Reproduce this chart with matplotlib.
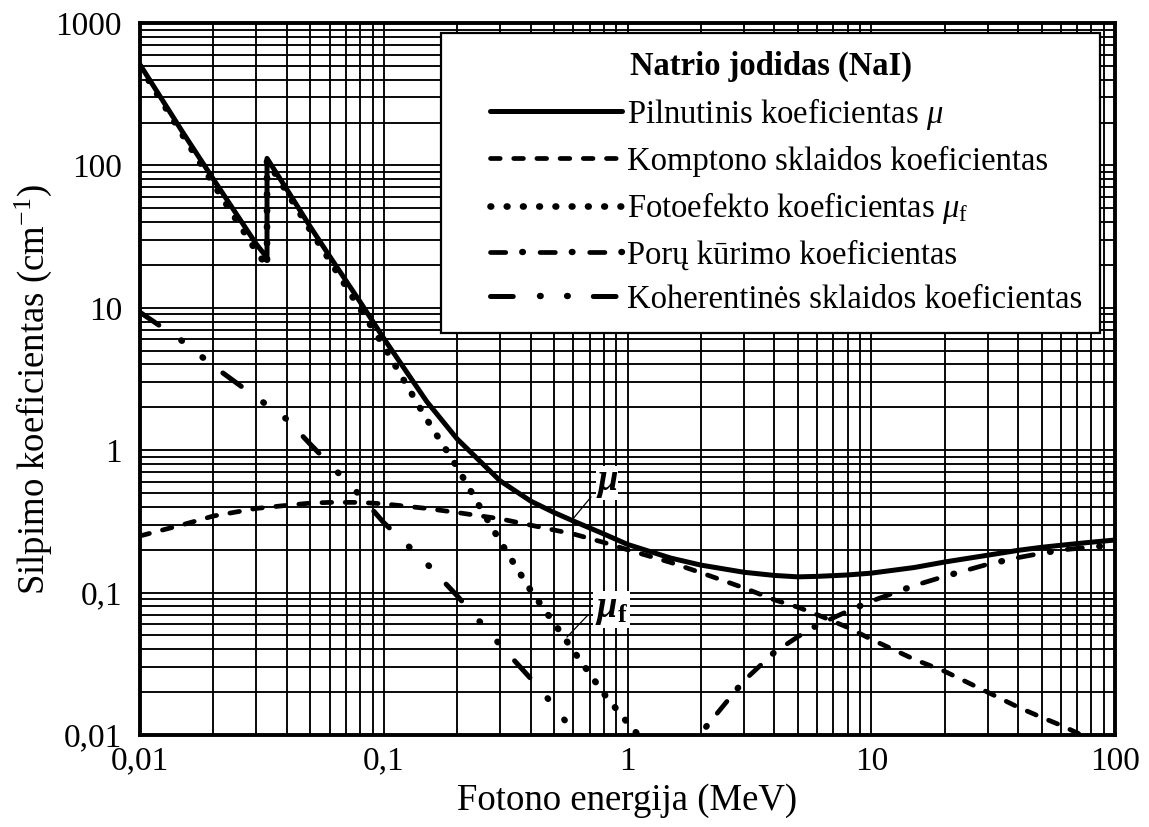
import matplotlib
matplotlib.use('Agg')
import matplotlib.pyplot as plt
import numpy as np
from matplotlib.lines import Line2D
from matplotlib.legend_handler import HandlerLine2D, HandlerTuple
from matplotlib.ticker import FixedLocator, FixedFormatter, LogLocator, NullFormatter

plt.rcParams['font.family'] = ['Liberation Serif', 'DejaVu Serif']
plt.rcParams['mathtext.fontset'] = 'custom'
plt.rcParams['mathtext.rm'] = 'Liberation Serif'
plt.rcParams['mathtext.it'] = 'Liberation Serif:italic'
plt.rcParams['mathtext.bf'] = 'Liberation Serif:bold'
plt.rcParams['mathtext.bfit'] = 'Liberation Serif:bold:italic'
plt.rcParams['lines.scale_dashes'] = False

# photon energy (MeV) and attenuation coefficients (1/cm)
total_e = [0.01, 0.015, 0.02, 0.03, 0.0332, 0.0332, 0.04, 0.05, 0.06, 0.08, 0.1, 0.15, 0.2, 0.3,
           0.4, 0.5, 0.6, 0.8, 1.0, 1.5, 2, 3, 4, 5, 6, 8, 10, 15, 20, 30, 40, 50, 60, 80, 100]
total_mu = [510, 170, 80, 28, 22.5, 112, 68, 37, 23, 11, 6.1, 2.2, 1.2, 0.61,
            0.44, 0.365, 0.318, 0.258, 0.218, 0.175, 0.156, 0.139, 0.132, 0.129, 0.13, 0.133, 0.137,
            0.150, 0.164, 0.183, 0.198, 0.208, 0.215, 0.226, 0.234]

compton_e = [0.01, 0.015, 0.02, 0.03, 0.04, 0.05, 0.06, 0.08, 0.1, 0.15, 0.2, 0.3, 0.5, 0.6, 0.8,
             1.0, 1.5, 2, 3, 4, 5, 6, 8, 10, 15, 20, 30, 40, 50, 60, 80, 100]
compton_mu = [0.25, 0.30, 0.345, 0.39, 0.41, 0.425, 0.43, 0.43, 0.42, 0.39, 0.365, 0.33, 0.275, 0.258,
              0.225, 0.2, 0.163, 0.138, 0.108, 0.089, 0.079, 0.07, 0.057, 0.047, 0.034, 0.028, 0.020,
              0.0157, 0.0133, 0.0117, 0.0093, 0.0077]

photo_e = [0.01, 0.015, 0.02, 0.03, 0.0332, 0.0332, 0.04, 0.05, 0.06, 0.08, 0.1, 0.15, 0.2, 0.25,
           0.3, 0.4, 0.5, 0.6, 0.8, 1.0, 1.5]
photo_mu = [495, 162, 74, 25, 19.5, 108, 65, 35, 21.5, 9.8, 5.4, 1.65, 0.76, 0.39,
            0.23, 0.104, 0.061, 0.039, 0.0195, 0.0122, 0.0055]

pair_e = [1.5, 2, 3, 4, 5, 6, 8, 10, 15, 20, 30, 40, 50, 60, 80, 100]
pair_mu = [0.0035, 0.0103, 0.024, 0.038, 0.049, 0.059, 0.074, 0.087, 0.112, 0.13, 0.158, 0.176,
           0.189, 0.199, 0.209, 0.216]

coherent_e = [0.01, 0.015, 0.02, 0.03, 0.04, 0.05, 0.06, 0.08, 0.1, 0.15, 0.2, 0.3, 0.4, 0.5, 0.6, 0.8]
coherent_mu = [9.3, 5.8, 3.9, 2.35, 1.65, 1.1, 0.8, 0.48, 0.31, 0.16, 0.095, 0.043, 0.025, 0.016,
               0.0105, 0.006]

x_ticks = [0.01, 0.1, 1, 10, 100]
x_labels = ['0,01', '0,1', '1', '10', '100']
y_ticks = [0.01, 0.1, 1, 10, 100, 1000]
y_labels = ['0,01', '0,1', '1', '10', '100', '1000']

legend_labels = ['Pilnutinis koeficientas $\\mu$',
                 'Komptono sklaidos koeficientas',
                 'Fotoefekto koeficientas $\\mu_\\mathrm{f}$',
                 'Porų kūrimo koeficientas',
                 'Koherentinės sklaidos koeficientas']

fs_leg = 23.5
fs_tick = 24
fs_label = 26.5


class ShortLineHandler(HandlerLine2D):
    # legend sample line starts a bit to the right of the handle box
    def get_xdata(self, legend, xdescent, ydescent, width, height, fontsize):
        shift = 0.95 * fontsize
        xdata = np.array([-xdescent + shift, -xdescent + width])
        return xdata, xdata


fig = plt.figure(figsize=(11.49, 8.27), dpi=100)
ax = fig.add_axes([140 / 1149, 1 - 735 / 827, 975 / 1149, 712 / 827])
ax.set_xscale('log')
ax.set_yscale('log')
ax.set_xlim(0.01, 100)
ax.set_ylim(0.01, 1000)

l1, = ax.plot(total_e, total_mu, color='black', lw=3.6, solid_capstyle='round', solid_joinstyle='round',
              zorder=5)
l2, = ax.plot(compton_e, compton_mu, color='black', lw=3.4, dashes=(7, 9.7), dash_capstyle='round',
              zorder=4)
l3, = ax.plot(photo_e, photo_mu, color='black', lw=4.8, dashes=(0.5, 11.2), dash_capstyle='round',
              zorder=4)
# dash-dot lines: long dashes and round dots drawn as two overlaid patterns
l4a, = ax.plot(pair_e, pair_mu, color='black', lw=3.4, linestyle=(0, (11, 24.7)),
               dash_capstyle='round', zorder=4)
l4b, = ax.plot(pair_e, pair_mu, color='black', lw=4.6, linestyle=(12.5, (0.5, 35.2)),
               dash_capstyle='round', zorder=4)
l5a, = ax.plot(coherent_e, coherent_mu, color='black', lw=3.6, linestyle=(0, (16.4, 57.6)),
               dash_capstyle='round', zorder=4)
l5b, = ax.plot(coherent_e, coherent_mu, color='black', lw=4.6, linestyle=(38, (0.5, 19.0, 0.5, 54.0)),
               dash_capstyle='round', zorder=4)

ax.xaxis.set_major_locator(FixedLocator(x_ticks))
ax.xaxis.set_major_formatter(FixedFormatter(x_labels))
ax.yaxis.set_major_locator(FixedLocator(y_ticks))
ax.yaxis.set_major_formatter(FixedFormatter(y_labels))
ax.xaxis.set_minor_locator(LogLocator(base=10, subs=range(2, 10), numticks=20))
ax.yaxis.set_minor_locator(LogLocator(base=10, subs=range(2, 10), numticks=20))
ax.xaxis.set_minor_formatter(NullFormatter())
ax.yaxis.set_minor_formatter(NullFormatter())
ax.tick_params(which='both', length=0, labelsize=fs_tick)
ax.tick_params(axis='x', pad=8)
ax.tick_params(axis='y', pad=13)
ax.grid(which='both', color='black', lw=1.35)
ax.set_axisbelow(True)
for sp in ax.spines.values():
    sp.set_linewidth(2.8)
    sp.set_zorder(6)

ax.set_xlabel('Fotono energija (MeV)', fontsize=fs_label)
ax.xaxis.set_label_coords(0.5, -0.068)
ax.set_ylabel('Silpimo koeficientas (cm$^{-1}$)', fontsize=fs_label)
ax.yaxis.set_label_coords(-0.088, 0.485)

# curve labels with leader lines
ax.plot([0.708, 0.597], [0.469, 0.329], color='black', lw=0.9, zorder=6)
ax.text(0.824, 0.589, '$\\mathbfit{\\mu}$', fontsize=fs_label, ha='center', va='center', zorder=7,
        bbox=dict(facecolor='white', edgecolor='none', pad=0))
ax.plot([0.689, 0.565], [0.0697, 0.0488], color='black', lw=0.9, zorder=6)
ax.text(0.86, 0.076, '$\\mathbfit{\\mu}_\\mathbf{f}$', fontsize=fs_label, ha='center', va='center',
        zorder=7, bbox=dict(facecolor='white', edgecolor='none', pad=1))

leg = ax.legend(handles=[l1, l2, l3, (l4a, l4b), (l5a, l5b)], labels=legend_labels,
                handler_map={Line2D: ShortLineHandler(), tuple: HandlerTuple(ndivide=1, pad=0)},
                loc='upper right', bbox_to_anchor=(0.985, 0.986), borderaxespad=0, fontsize=fs_leg,
                title='Natrio jodidas (NaI)', title_fontproperties={'weight': 'bold', 'size': fs_leg},
                fancybox=False, framealpha=1, edgecolor='black', handlelength=5.0,
                handletextpad=0.15, labelspacing=0.42, borderpad=0.55)
leg.get_frame().set_linewidth(1.6)
leg.set_zorder(10)

fig.savefig('out.png', dpi=100)
